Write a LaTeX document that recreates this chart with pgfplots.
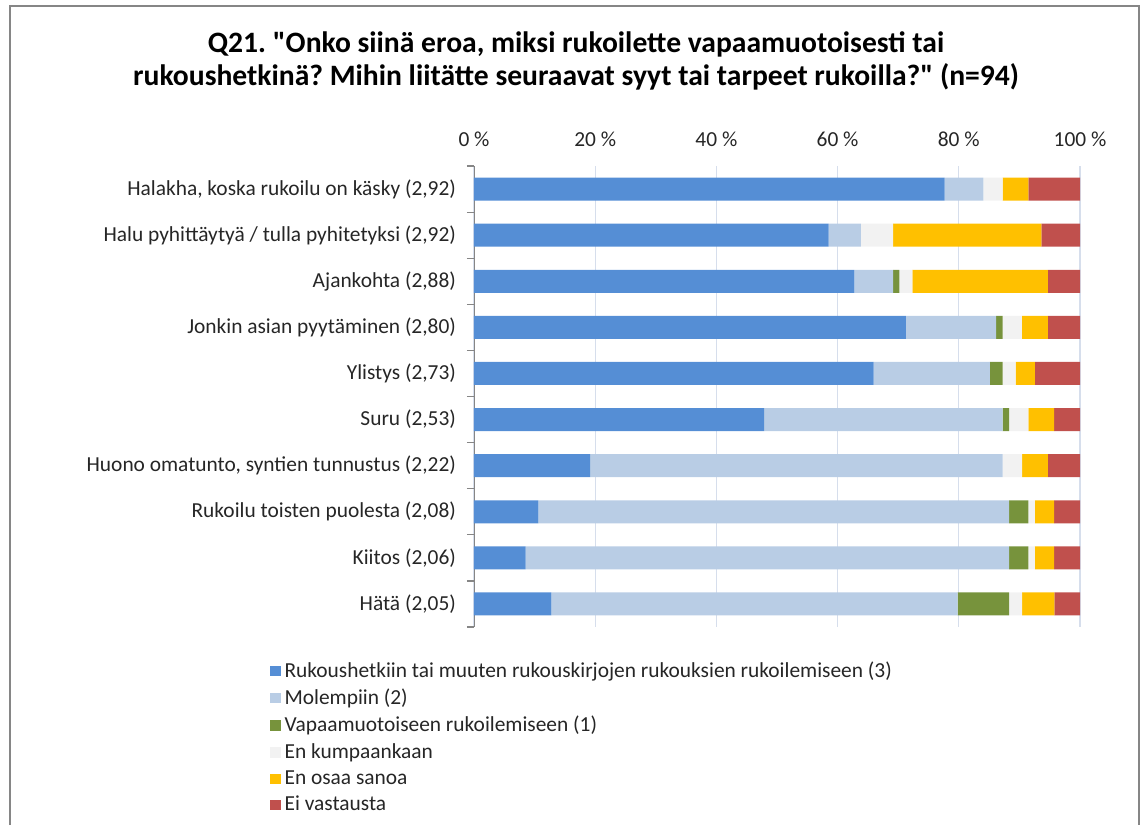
\documentclass[border=0pt]{standalone}
\usepackage{fontspec}
\setmainfont{Carlito}[Ligatures=TeXOff]
\usepackage{pgfplots}
\usepackage{pgfplotstable}
\pgfplotsset{compat=1.18}
\frenchspacing

\definecolor{cBlue}{HTML}{558ED5}
\definecolor{cLight}{HTML}{B9CDE5}
\definecolor{cGreen}{HTML}{77933C}
\definecolor{cGrey}{HTML}{F2F2F2}
\definecolor{cYellow}{HTML}{FFC000}
\definecolor{cRed}{HTML}{C0504D}
\definecolor{cGrid}{HTML}{D6DEEC}
\definecolor{cAxis}{HTML}{868686}
\definecolor{cText}{HTML}{262626}

% shares of answers (n=94), in percent
\pgfplotstableread{
y  a      b      c     d     e      f
0  77.66  6.38   0     3.19  4.26   8.51
1  58.51  5.32   0     5.32  24.47  6.38
2  62.77  6.38   1.06  2.13  22.34  5.32
3  71.28  14.89  1.06  3.19  4.26   5.32
4  65.96  19.15  2.13  2.13  3.19   7.45
5  47.87  39.36  1.06  3.19  4.26   4.26
6  19.15  68.09  0     3.19  4.26   5.32
7  10.64  77.66  3.19  1.06  3.19   4.26
8  8.51   79.79  3.19  1.06  3.19   4.26
9  12.77  67.02  8.51  2.13  5.32   4.26
}\datatable

\begin{document}
\begin{tikzpicture}
% bounding box = 1141 x 825 px at 0.5pt per px
\path[use as bounding box] (0pt,0pt) rectangle (570.5pt,-412.5pt);
% chart frame (bottom edge is cut off)
\draw[cAxis, line width=1pt] (5pt,-412.5pt) -- (5pt,-3pt) -- (569.5pt,-3pt) -- (569.5pt,-412.5pt);

\node[font=\fontsize{14.8}{16.5}\selectfont\bfseries, text=black, align=center]
  at (288pt,-30.5pt) {Q21. "Onko siinä eroa, miksi rukoilette vapaamuotoisesti tai\\
  rukoushetkinä? Mihin liitätte seuraavat syyt tai tarpeet rukoilla?" (n=94)};

\begin{axis}[
  at={(237pt,-313.5pt)}, anchor=south west,
  scale only axis,
  width=303pt, height=230.5pt,
  xbar stacked,
  bar width=11.5pt,
  xmin=0, xmax=100,
  ymin=-0.5, ymax=9.5,
  y dir=reverse,
  axis x line*=top,
  axis y line*=left,
  x axis line style={draw=none},
  y axis line style={draw=cAxis},
  xtick={0,20,40,60,80,100},
  xticklabels={0~\%,20~\%,40~\%,60~\%,80~\%,100~\%},
  xmajorgrids,
  major grid style={draw=cGrid, line width=0.6pt},
  ytick={0,...,9},
  yticklabels={{Halakha, koska rukoilu on käsky (2,92)},
    {Halu pyhittäytyä / tulla pyhitetyksi (2,92)},
    {Ajankohta (2,88)},
    {Jonkin asian pyytäminen (2,80)},
    {Ylistys (2,73)},
    {Suru (2,53)},
    {Huono omatunto, syntien tunnustus (2,22)},
    {Rukoilu toisten puolesta (2,08)},
    {Kiitos (2,06)},
    {Hätä (2,05)}},
  minor ytick={-0.5,0.5,...,9.5},
  major tick length=0pt,
  minor tick length=3.5pt,
  tick align=outside,
  minor tick style={draw=cAxis, line width=0.6pt},
  tick label style={font=\fontsize{10.7}{12}\selectfont, text=cText},
  x tick label style={yshift=6pt},
  y tick label style={xshift=-5.5pt},
  legend style={at={(-0.337,-0.065)}, anchor=north west, draw=none,
    font=\fontsize{10.7}{13}\selectfont, text=cText,
    row sep=0.4pt, inner sep=0pt, cells={anchor=west}},
  legend image code/.code={\fill[#1] (0pt,-2.6pt) rectangle (5.2pt,2.6pt);},
]
\addplot[fill=cBlue, draw=none] table[x=a, y=y] {\datatable};
\addplot[fill=cLight, draw=none] table[x=b, y=y] {\datatable};
\addplot[fill=cGreen, draw=none] table[x=c, y=y] {\datatable};
\addplot[fill=cGrey, draw=none] table[x=d, y=y] {\datatable};
\addplot[fill=cYellow, draw=none] table[x=e, y=y] {\datatable};
\addplot[fill=cRed, draw=none] table[x=f, y=y] {\datatable};
\legend{Rukoushetkiin tai muuten rukouskirjojen rukouksien rukoilemiseen (3),
  Molempiin (2),
  Vapaamuotoiseen rukoilemiseen (1),
  En kumpaankaan,
  En osaa sanoa,
  Ei vastausta}
\end{axis}
\end{tikzpicture}
\end{document}
